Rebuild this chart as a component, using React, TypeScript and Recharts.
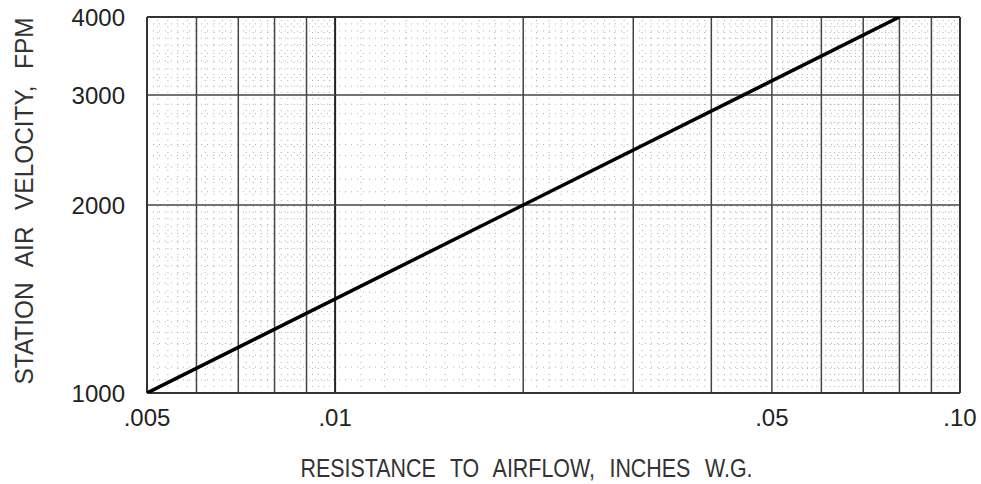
import { LineChart, Line, XAxis, YAxis, ReferenceLine, Label } from "recharts";

// resistance (in. w.g.) vs station air velocity (fpm), log-log
const resistance = [0.005, 0.08];
const velocity = [1000, 4000];

const xTicks = [0.005, 0.01, 0.05, 0.1];
const xTickLabels = [".005", ".01", ".05", ".10"];
const yTicks = [1000, 2000, 3000, 4000];

// solid grid lines
const majorX = [0.006, 0.007, 0.008, 0.009, 0.02, 0.03, 0.04, 0.05, 0.06, 0.07, 0.08, 0.09];
const heavyX = [0.01];
const majorY = [2000, 3000];

// dotted graph paper lines
const minorX = [
  0.0052, 0.0054, 0.0056, 0.0058, 0.0062, 0.0064, 0.0066, 0.0068, 0.0072, 0.0074,
  0.0076, 0.0078, 0.0082, 0.0084, 0.0086, 0.0088, 0.0092, 0.0094, 0.0096, 0.0098,
  0.011, 0.012, 0.013, 0.014, 0.015, 0.016, 0.017, 0.018, 0.019,
  0.021, 0.022, 0.023, 0.024, 0.025, 0.026, 0.027, 0.028, 0.029,
  0.031, 0.032, 0.033, 0.034, 0.035, 0.036, 0.037, 0.038, 0.039,
  0.041, 0.042, 0.043, 0.044, 0.045, 0.046, 0.047, 0.048, 0.049,
  0.051, 0.052, 0.053, 0.054, 0.055, 0.056, 0.057, 0.058, 0.059,
  0.061, 0.062, 0.063, 0.064, 0.065, 0.066, 0.067, 0.068, 0.069,
  0.071, 0.072, 0.073, 0.074, 0.075, 0.076, 0.077, 0.078, 0.079,
  0.082, 0.084, 0.086, 0.088, 0.092, 0.094, 0.096, 0.098,
];
const minorY = [
  1050, 1100, 1150, 1200, 1250, 1300, 1350, 1400, 1450, 1500, 1550, 1600, 1650, 1700,
  1750, 1800, 1850, 1900, 1950, 2100, 2200, 2300, 2400, 2500, 2600, 2700, 2800, 2900,
  3100, 3200, 3300, 3400, 3500, 3600, 3700, 3800, 3900,
];

const data = resistance.map((r, i) => ({ r, v: velocity[i] }));

const font = "'Liberation Sans', Arial, sans-serif";

export default function App() {
  return (
    <div style={{ position: "absolute", left: 0, top: 0, background: "#fff" }}>
      <LineChart
        width={981}
        height={484}
        data={data}
        margin={{ top: 17, right: 21, left: 0, bottom: 0 }}
      >
        <XAxis
          dataKey="r"
          type="number"
          scale="log"
          domain={[0.005, 0.1]}
          ticks={xTicks}
          tickFormatter={(v) => xTickLabels[xTicks.indexOf(v)] ?? ""}
          allowDataOverflow
          axisLine={false}
          tickLine={false}
          tickSize={0}
          tickMargin={16}
          height={91}
          interval={0}
          tick={{ fill: "#222", fontSize: 24, fontFamily: font }}
        >
          <Label
            content={({ viewBox }: any) => (
              <text
                x={viewBox.x + viewBox.width / 2 - 27}
                y={viewBox.y + 84}
                textAnchor="middle"
                fill="#333"
                fontSize={25}
                fontFamily={font}
                textLength={452}
                lengthAdjust="spacingAndGlyphs"
                style={{ wordSpacing: 10 }}
              >
                RESISTANCE TO AIRFLOW, INCHES W.G.
              </text>
            )}
          />
        </XAxis>
        <YAxis
          type="number"
          scale="log"
          domain={[1000, 4000]}
          ticks={yTicks}
          allowDataOverflow
          axisLine={false}
          tickLine={false}
          tickSize={0}
          tickMargin={22}
          width={147}
          interval={0}
          tick={{ fill: "#222", fontSize: 24, fontFamily: font }}
        >
          <Label
            content={({ viewBox }: any) => {
              const cx = viewBox.x + 33;
              const cy = viewBox.y + viewBox.height / 2 - 4;
              return (
                <text
                  x={cx}
                  y={cy}
                  textAnchor="middle"
                  fill="#333"
                  fontSize={25}
                  fontFamily={font}
                  textLength={367}
                  lengthAdjust="spacingAndGlyphs"
                  style={{ wordSpacing: 10 }}
                  transform={`rotate(-90 ${cx} ${cy})`}
                >
                  STATION AIR VELOCITY, FPM
                </text>
              );
            }}
          />
        </YAxis>

        {minorX.map((x) => (
          <ReferenceLine key={`mx${x}`} x={x} stroke="#b0b0b0" strokeWidth={1} strokeDasharray="1 5" />
        ))}
        {minorY.map((y) => (
          <ReferenceLine key={`my${y}`} y={y} stroke="#b0b0b0" strokeWidth={1} strokeDasharray="1 5" />
        ))}
        {majorX.map((x) => (
          <ReferenceLine key={`jx${x}`} x={x} stroke="#444" strokeWidth={1.5} />
        ))}
        {heavyX.map((x) => (
          <ReferenceLine key={`hx${x}`} x={x} stroke="#222" strokeWidth={2} />
        ))}
        {majorY.map((y) => (
          <ReferenceLine key={`jy${y}`} y={y} stroke="#444" strokeWidth={1.5} />
        ))}
        <ReferenceLine x={0.005} stroke="#333" strokeWidth={2} />
        <ReferenceLine x={0.1} stroke="#333" strokeWidth={2} />
        <ReferenceLine y={1000} stroke="#333" strokeWidth={2} />
        <ReferenceLine y={4000} stroke="#333" strokeWidth={2} />

        <Line
          dataKey="v"
          type="linear"
          stroke="#000"
          strokeWidth={3.5}
          dot={false}
          isAnimationActive={false}
        />
      </LineChart>
    </div>
  );
}
